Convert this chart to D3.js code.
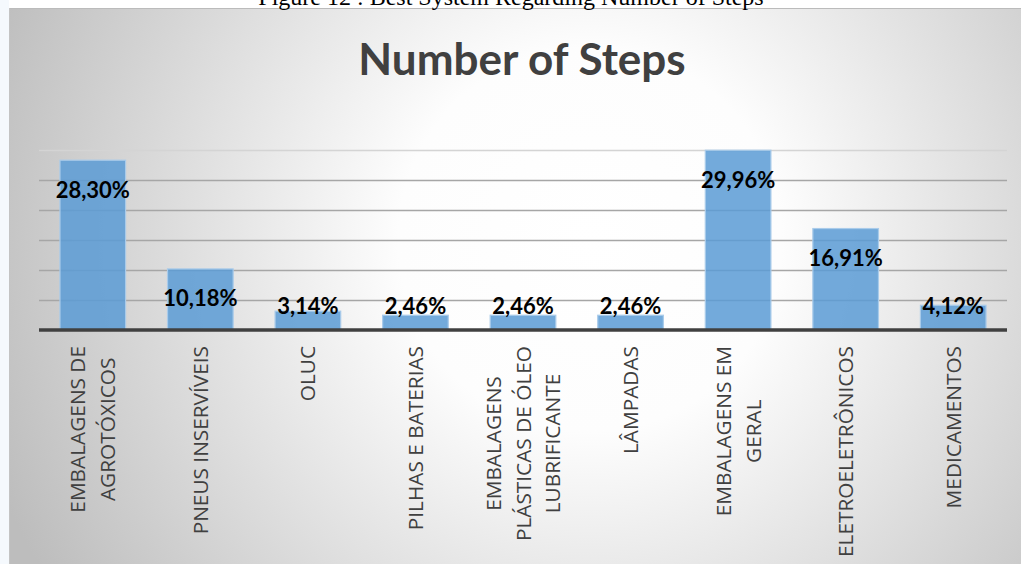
<!DOCTYPE html>
<html><head><meta charset="utf-8">
<script src="https://cdn.jsdelivr.net/npm/d3@7"></script>
<style>html,body{margin:0;padding:0;background:#fff;overflow:hidden}</style>
</head><body>
<svg id="chart" width="1021" height="564"></svg>
<script>
const categories = [
  ["EMBALAGENS DE","AGROTÓXICOS"],
  ["PNEUS INSERVÍVEIS"],
  ["OLUC"],
  ["PILHAS E BATERIAS"],
  ["EMBALAGENS","PLÁSTICAS DE ÓLEO","LUBRIFICANTE"],
  ["LÂMPADAS"],
  ["EMBALAGENS EM","GERAL"],
  ["ELETROELETRÔNICOS"],
  ["MEDICAMENTOS"]
];
const values = [28.30, 10.18, 3.14, 2.46, 2.46, 2.46, 29.96, 16.91, 4.12];
const valueLabels = ["28,30%","10,18%","3,14%","2,46%","2,46%","2,46%","29,96%","16,91%","4,12%"];
const gridTicks = [5, 10, 15, 20, 25, 30];
const title = "Number of Steps";
const caption = "Figure 12 : Best System Regarding Number of Steps";

const svg = d3.select("#chart");
const W = 1021, H = 564;
const panel = {x: 9, y: 8};
const plot = {left: 39, right: 1007, top: 150, bottom: 330};

const defs = svg.append("defs");
const rg = defs.append("radialGradient").attr("id","bg")
  .attr("gradientUnits","userSpaceOnUse")
  .attr("cx",590).attr("cy",240).attr("r",640);
rg.append("stop").attr("offset","0").attr("stop-color","#ffffff");
rg.append("stop").attr("offset","0.3").attr("stop-color","#fdfdfd");
rg.append("stop").attr("offset","1").attr("stop-color","#bdbdbd");

svg.append("rect").attr("x",0).attr("y",0).attr("width",panel.x).attr("height",H).attr("fill","#f5f9fd");
svg.append("rect").attr("x",panel.x).attr("y",panel.y).attr("width",W-panel.x).attr("height",H-panel.y).attr("fill","url(#bg)");
svg.append("line").attr("x1",panel.x).attr("x2",W).attr("y1",panel.y+0.5).attr("y2",panel.y+0.5).attr("stroke","#bbbbbb");
svg.append("line").attr("x1",panel.x+0.5).attr("x2",panel.x+0.5).attr("y1",panel.y).attr("y2",H).attr("stroke","#c4c4c4");

svg.append("text").attr("x",511).attr("y",5).attr("text-anchor","middle")
  .attr("font-family","'Liberation Serif','Times New Roman',serif").attr("font-size",24)
  .attr("fill","#000").text(caption);

svg.append("text").attr("x",522).attr("y",75).attr("text-anchor","middle")
  .attr("font-family","Lato, 'Open Sans', sans-serif").attr("font-weight","bold").attr("font-size",44)
  .attr("fill","#404040").text(title);

const x = d3.scaleBand().domain(d3.range(values.length)).range([plot.left, plot.right]).paddingInner(0.39).paddingOuter(0.195);
const y = d3.scaleLinear().domain([0, 30]).range([plot.bottom, plot.top]);

svg.append("g").selectAll("line").data(gridTicks).join("line")
  .attr("x1",plot.left).attr("x2",plot.right)
  .attr("y1",d=>Math.round(y(d))+0.5).attr("y2",d=>Math.round(y(d))+0.5)
  .attr("stroke",(d,i)=> i===gridTicks.length-1 ? "#d4d4d4" : "#a6a6a6").attr("stroke-width",1.3);

svg.append("g").selectAll("rect").data(values).join("rect")
  .attr("x",(d,i)=>x(i)).attr("width",x.bandwidth())
  .attr("y",d=>y(d)).attr("height",d=>y(0)-y(d))
  .attr("fill","#5b9bd5").attr("fill-opacity",0.85)
  .attr("stroke","#a9cbea").attr("stroke-width",1.2);

svg.append("line").attr("x1",plot.left).attr("x2",plot.right)
  .attr("y1",y(0)).attr("y2",y(0)).attr("stroke","#404040").attr("stroke-width",3.5);

svg.append("g").selectAll("text").data(values).join("text")
  .attr("x",(d,i)=>x(i)+x.bandwidth()/2)
  .attr("y",d=>Math.min(y(d)+29, y(0)-25))
  .attr("text-anchor","middle").attr("dominant-baseline","central")
  .attr("font-family","Lato, 'Open Sans', sans-serif").attr("font-weight","bold").attr("font-size",22)
  .attr("fill","#000").text((d,i)=>valueLabels[i]);

const labelTop = 346, lineGap = 30;
const lg = svg.append("g");
categories.forEach((lines, i) => {
  const cx = x(i) + x.bandwidth()/2;
  const g = lg.append("g").attr("transform",`translate(${cx},0) rotate(-90)`);
  const ts = lines.map((t, j) => g.append("text")
    .attr("y", (j - (lines.length-1)/2)*lineGap)
    .attr("dy","0.36em")
    .attr("text-anchor","middle")
    .attr("font-family","'Open Sans', sans-serif").attr("font-size",20.8)
    .attr("fill","#404040").text(t));
  const maxLen = d3.max(ts, t => t.node().getComputedTextLength());
  ts.forEach(t => t.attr("x", -(labelTop + maxLen/2)));
});
</script>
</body></html>
